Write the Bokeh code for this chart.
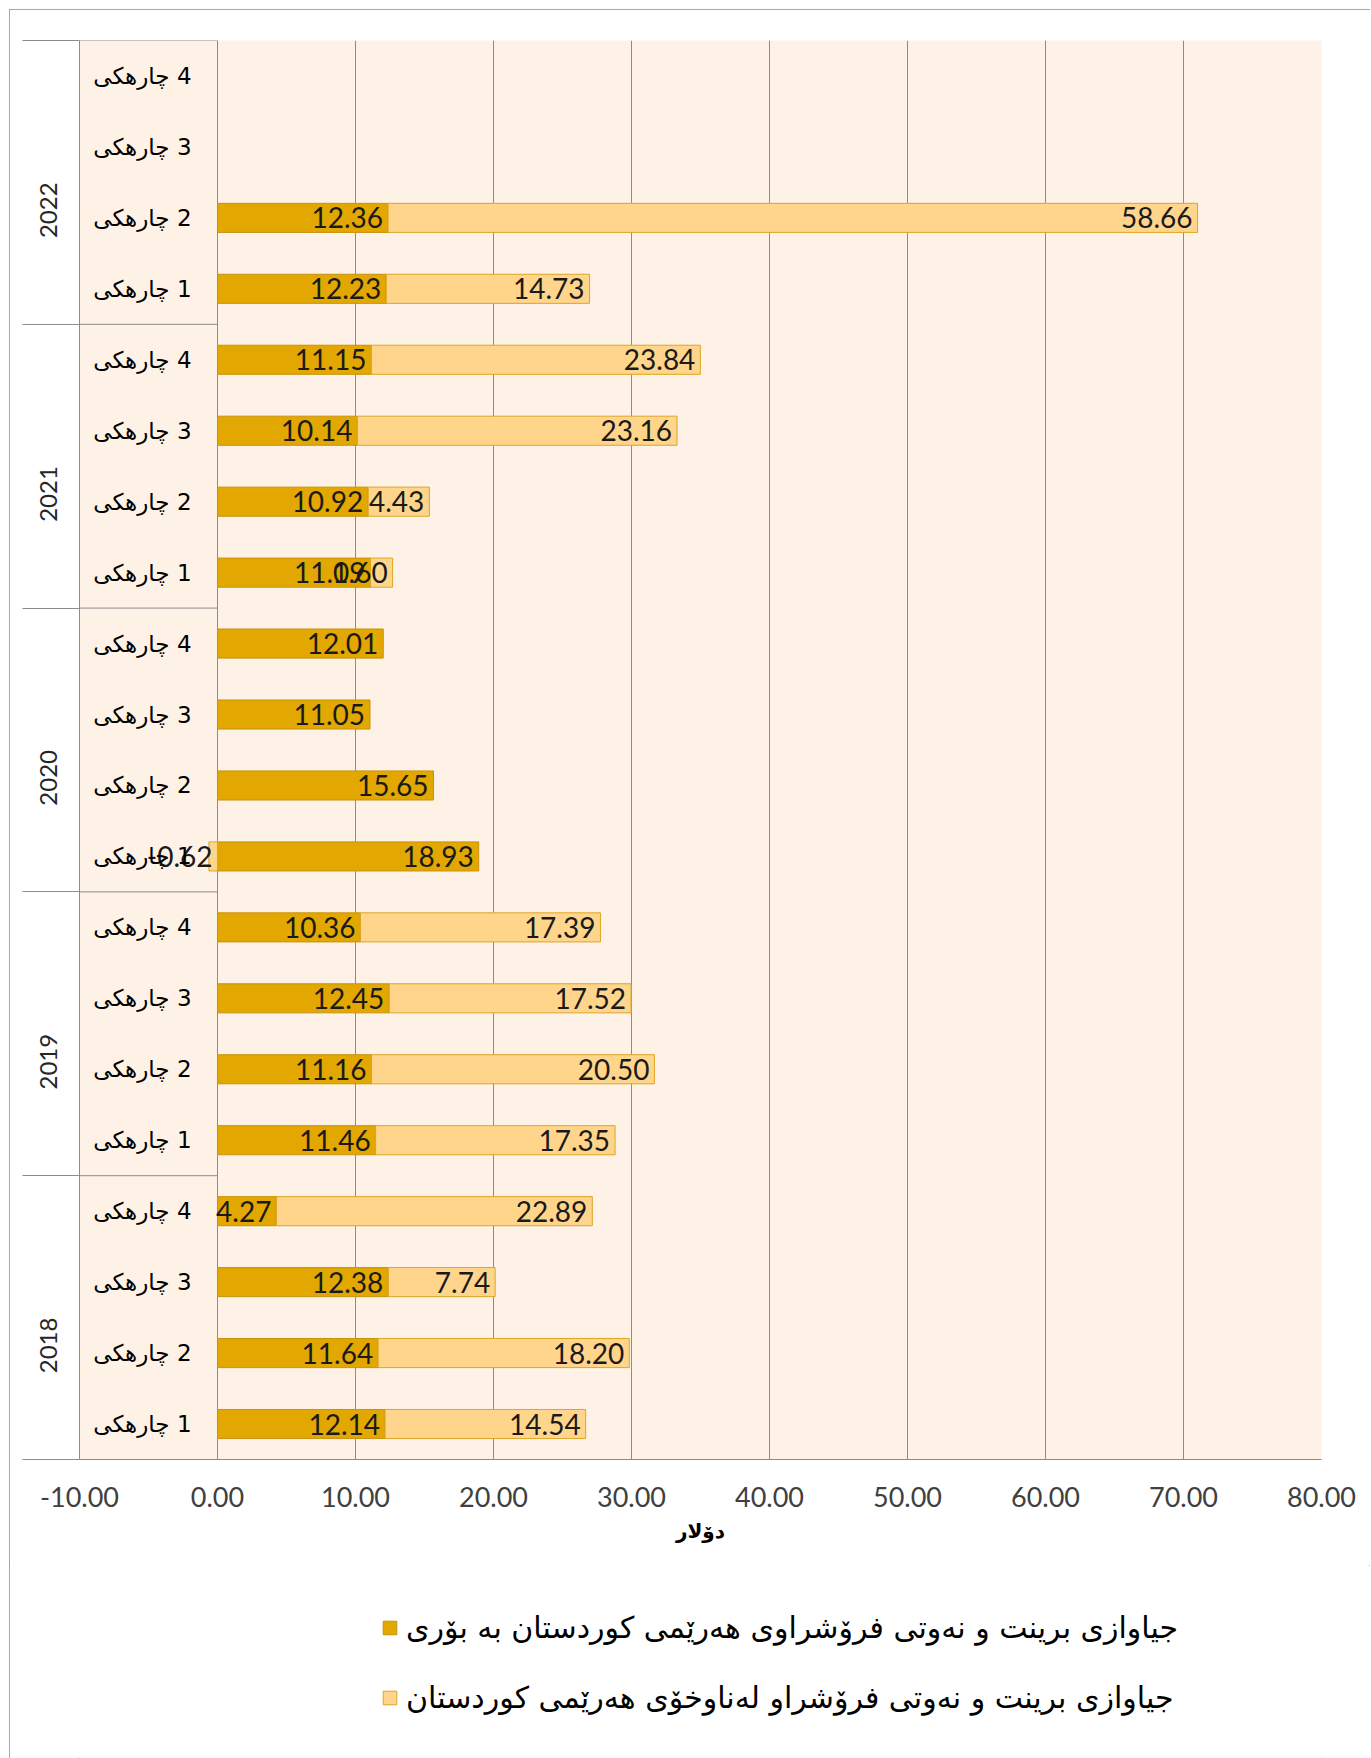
import math
from bokeh.plotting import figure
from bokeh.layouts import column
from bokeh.models import (FixedTicker, Range1d, Legend, LegendItem, NumeralTickFormatter)
from bokeh.core.properties import value
from bokeh.embed import file_html
from bokeh.resources import INLINE

# ---------------- data ----------------
years = ["2018", "2019", "2020", "2021", "2022"]
quarters = ["1", "2", "3", "4"]
quarter_word = "چارهکی"
# values ordered 2018 Q1 ... 2022 Q4 (None = no value)
pipeline = [12.14, 11.64, 12.38, 4.27,
            11.46, 11.16, 12.45, 10.36,
            18.93, 15.65, 11.05, 12.01,
            11.09, 10.92, 10.14, 11.15,
            12.23, 12.36, None, None]
domestic = [14.54, 18.20, 7.74, 22.89,
            17.35, 20.50, 17.52, 17.39,
            -0.62, None, None, None,
            1.60, 4.43, 23.16, 23.84,
            14.73, 58.66, None, None]
series_names = ["جیاوازی برینت و نەوتی فرۆشراوی هەرێمی کوردستان بە بۆری",
                "جیاوازی برینت و نەوتی فرۆشراو لەناوخۆی هەرێمی کوردستان"]
x_ticks = [-10, 0, 10, 20, 30, 40, 50, 60, 70, 80]
x_title = "دۆلار"

# ---------------- styles ----------------
DARK, DARK_LINE = "#E2A700", "#C8920C"
LIGHT, LIGHT_LINE = "#FFD58C", "#DDA524"
CREAM = "#FEF2E6"
GRID = "#8C8C8C"
NUM_FONT = "Lato"
AR_FONT = "DejaVu Sans"
BAR_H = 0.41

n_q = len(quarters)
n = len(years) * n_q
centers = [i + 0.5 for i in range(n)]

# stacked geometry
d_y, d_l, d_r = [], [], []
l_y, l_l, l_r = [], [], []
lab_x, lab_y, lab_t = [], [], []
for i in range(n):
    dv = pipeline[i]
    base = 0.0
    if dv is not None:
        d_y.append(centers[i]); d_l.append(0.0); d_r.append(dv)
        lab_x.append(max(0.0, dv)); lab_y.append(centers[i]); lab_t.append(f"{dv:.2f}")
        base = dv
    lv = domestic[i]
    if lv is not None:
        left = max(base, 0.0) if lv >= 0 else min(base, 0.0)
        right = left + lv
        l_y.append(centers[i]); l_l.append(left); l_r.append(right)
        lab_x.append(max(left, right)); lab_y.append(centers[i]); lab_t.append(f"{lv:.2f}")

W = 1361
p = figure(width=W, height=1556, output_backend="svg", toolbar_location=None,
           x_range=Range1d(x_ticks[0], x_ticks[-1]), y_range=Range1d(0, n),
           min_border_left=70, min_border_right=49, min_border_top=31, min_border_bottom=106)
p.background_fill_color = CREAM
p.border_fill_color = "white"
p.outline_line_color = None

# grid
p.xgrid.ticker = FixedTicker(ticks=x_ticks)
p.xgrid.grid_line_color = GRID
p.xgrid.grid_line_width = 1
p.ygrid.grid_line_color = None

# quarter column separators between years
bounds = [n_q * k for k in range(1, len(years) + 1)]
p.segment(x0=[x_ticks[0]] * len(bounds), x1=[0] * len(bounds), y0=bounds, y1=bounds,
          line_color=GRID, line_width=1)

p.hbar(y=d_y, left=d_l, right=d_r, height=BAR_H, fill_color=DARK,
       line_color=DARK_LINE, line_width=1)
p.hbar(y=l_y, left=l_l, right=l_r, height=BAR_H, fill_color=LIGHT,
       line_color=LIGHT_LINE, line_width=1)

# value labels (inside end)
p.text(x=lab_x, y=lab_y, text=lab_t, text_align="right", text_baseline="middle",
       x_offset=-5, text_font=value(NUM_FONT), text_font_size="28px", text_color="#1A1A1A")

# quarter labels
q_text = [f"{quarter_word}\u200E {quarters[i % n_q]}" for i in range(n)]
p.text(x=[0] * n, y=centers, text=q_text, text_align="right", text_baseline="middle",
       x_offset=-26, text_font=value(AR_FONT), text_font_size="23px", text_color="#000000")

# x axis
p.xaxis.ticker = FixedTicker(ticks=x_ticks)
p.xaxis.formatter = NumeralTickFormatter(format="0.00")
p.xaxis.major_tick_out = 0
p.xaxis.major_tick_in = 0
p.xaxis.minor_tick_out = 0
p.xaxis.minor_tick_in = 0
p.xaxis.axis_line_color = GRID
p.xaxis.major_label_standoff = 27
p.xaxis.major_label_text_font = NUM_FONT
p.xaxis.major_label_text_font_size = "27px"
p.xaxis.major_label_text_color = "#404040"
p.xaxis.axis_label = x_title
p.xaxis.axis_label_text_font = AR_FONT
p.xaxis.axis_label_text_font_style = "bold"
p.xaxis.axis_label_text_font_size = "20px"
p.xaxis.axis_label_text_color = "#000000"
p.xaxis.axis_label_standoff = 9

# y axis: year column (labels at year mid, separators as long minor ticks)
year_mid = [n_q * k + n_q / 2 for k in range(len(years))]
year_bounds = [n_q * k for k in range(len(years) + 1)]
p.yaxis.ticker = FixedTicker(ticks=year_mid, minor_ticks=year_bounds)
p.yaxis.major_label_overrides = {m: y for m, y in zip(year_mid, years)}
p.yaxis.major_label_orientation = math.pi / 2
p.yaxis.major_tick_out = 0
p.yaxis.major_tick_in = 0
p.yaxis.minor_tick_out = 57
p.yaxis.minor_tick_in = 0
p.yaxis.minor_tick_line_color = GRID
p.yaxis.axis_line_color = GRID
p.yaxis.major_label_standoff = -26
p.yaxis.major_label_text_font = NUM_FONT
p.yaxis.major_label_text_font_size = "24px"
p.yaxis.major_label_text_color = "#262626"

# ---------------- legend strip below the chart ----------------
q = figure(width=W, height=193, output_backend="svg", toolbar_location=None,
           x_range=Range1d(0, 1), y_range=Range1d(0, 1),
           x_axis_location=None, y_axis_location=None,
           min_border_left=0, min_border_right=0, min_border_top=0, min_border_bottom=0)
q.grid.visible = False
q.outline_line_color = None
q.background_fill_color = "white"
q.border_fill_color = "white"
# key renderers: no bar is drawn (NaN), only the legend keys show
nan = float("nan")
k_dark = q.hbar(y=[nan], left=[nan], right=[nan], height=BAR_H, fill_color=DARK,
                line_color=DARK_LINE, line_width=1)
k_light = q.hbar(y=[nan], left=[nan], right=[nan], height=BAR_H, fill_color=LIGHT,
                 line_color=LIGHT_LINE, line_width=1)
legend = Legend(items=[LegendItem(label=series_names[0], renderers=[k_dark]),
                       LegendItem(label=series_names[1], renderers=[k_light])],
                location=(302, 43), orientation="vertical",
                glyph_width=17, glyph_height=17, label_standoff=8, spacing=34,
                label_height=36, padding=0, margin=0, border_line_color=None,
                background_fill_alpha=0,
                label_text_font=AR_FONT, label_text_font_size="30px",
                label_text_color="#000000")
q.add_layout(legend)

layout = column(p, q, spacing=0,
                styles={"margin-left": "9px", "margin-top": "9px",
                        "outline": "1px solid #8C8C8C", "outline-offset": "-1px"})

open("out.html", "w").write(file_html(layout, INLINE))
